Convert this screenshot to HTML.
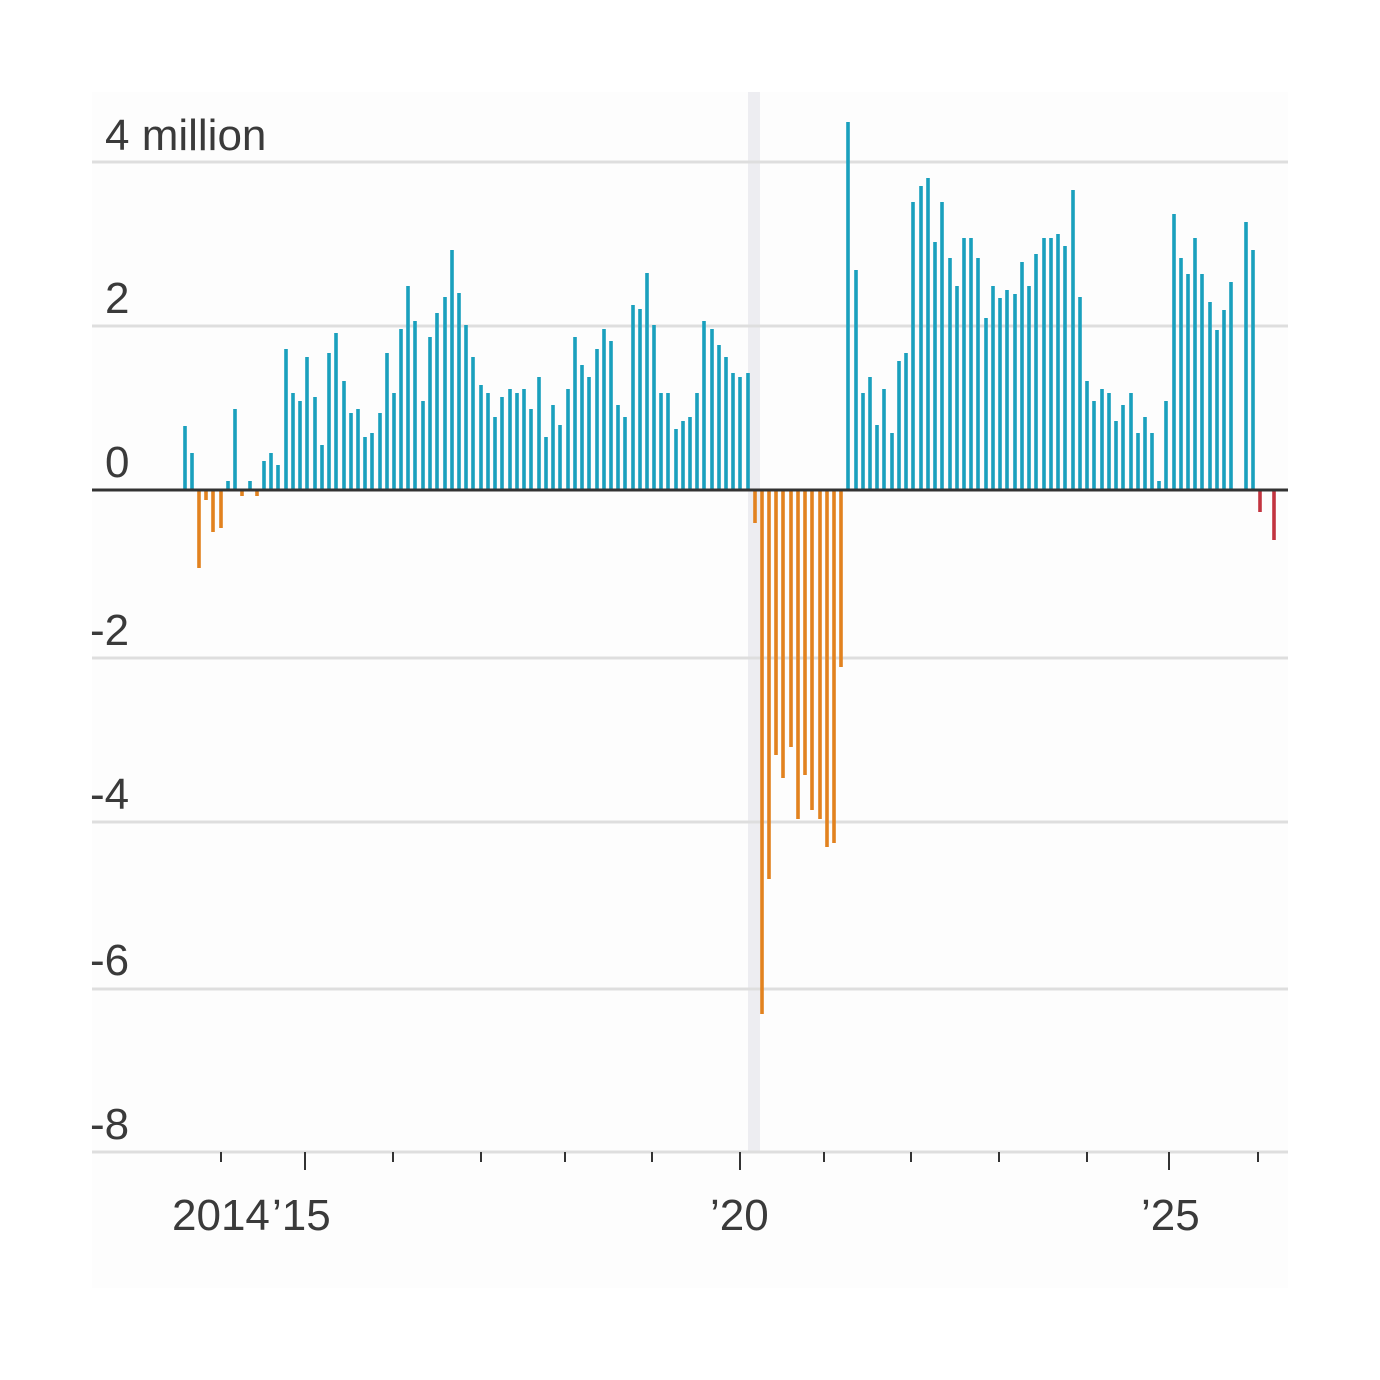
<!DOCTYPE html>
<html><head><meta charset="utf-8">
<style>
html,body{margin:0;padding:0;background:#fff;}
svg{display:block;}
text{font-family:"Liberation Sans Narrow","Liberation Sans",sans-serif;fill:#3a3a3a;font-size:44px;}
</style></head>
<body>
<svg id="c" width="1380" height="1380" viewBox="0 0 1380 1380" xmlns="http://www.w3.org/2000/svg">
<rect x="92" y="92" width="1196" height="1196" fill="#fdfdfd"/>
<rect x="748" y="92" width="12" height="1060" fill="#ededf1"/>
<g stroke="#dedede" stroke-width="3">
<line x1="92" x2="1288" y1="162" y2="162"/>
<line x1="92" x2="1288" y1="326" y2="326"/>
<line x1="92" x2="1288" y1="658" y2="658"/>
<line x1="92" x2="1288" y1="822" y2="822"/>
<line x1="92" x2="1288" y1="989" y2="989"/>
<line x1="92" x2="1288" y1="1152" y2="1152"/>
</g>
<g id="bars"></g>
<line x1="92" x2="1288" y1="490" y2="490" stroke="#333" stroke-width="3"/>
<g stroke="#333" stroke-width="2" id="ticks"></g>
<text x="105" y="150">4 million</text>
<text x="105" y="313">2</text>
<text x="105" y="477">0</text>
<text x="90" y="645">-2</text>
<text x="90" y="809">-4</text>
<text x="90" y="975">-6</text>
<text x="90" y="1139">-8</text>
<text x="172" y="1230">2014</text>
<text x="272" y="1230">’15</text>
<text x="710" y="1230">’20</text>
<text x="1141" y="1230">’25</text>
</svg>
<script>
var d=[[185,426],[192,453],[199,568],[206,500],[213,532],[221,528],[228,481],[235,409],[242,496],[250,481],[257,496],[264,461],[271,453],[278,465],[286,349],[293,393],[300,401],[307,357],[315,397],[322,445],[329,353],[336,333],[344,381],[351,413],[358,409],[365,437],[372,433],[380,413],[387,353],[394,393],[401,329],[408,286],[415,321],[423,401],[430,337],[437,313],[445,297],[452,250],[459,293],[466,325],[473,357],[481,385],[488,393],[495,417],[502,397],[510,389],[517,393],[524,389],[531,409],[539,377],[546,437],[553,405],[560,425],[568,389],[575,337],[582,365],[589,377],[597,349],[604,329],[611,341],[618,405],[625,417],[633,305],[640,309],[647,273],[654,325],[661,393],[668,393],[676,429],[683,421],[690,417],[697,393],[704,321],[712,329],[719,345],[726,357],[733,373],[740,377],[748,373],
[755,523],[762,1014],[769,879],[776,755],[783,778],[791,747],[798,819],[805,775],[812,810],[820,819],[827,847],[834,843],[841,667],
[848,122],[856,270],[863,393],[870,377],[877,425],[884,389],[892,433],[899,361],[906,353],[913,202],[921,186],[928,178],[935,242],[942,202],[950,258],[957,286],[964,238],[971,238],[978,258],[986,318],[993,286],[1000,298],[1007,290],[1015,294],[1022,262],[1029,286],[1036,254],[1044,238],[1051,238],[1058,234],[1065,246],[1073,190],[1080,297],[1087,381],[1094,401],[1102,389],[1109,393],[1116,421],[1123,405],[1131,393],[1138,433],[1145,417],[1152,433],[1159,481],[1166,401],[1174,214],[1181,258],[1188,274],[1195,238],[1202,274],[1210,302],[1217,330],[1224,310],[1231,282],[1246,222],[1253,250],[1260,512,'r'],[1274,540,'r']];
var g=document.getElementById('bars'),s='',w=3.6;
d.forEach(function(b){var x=b[0]-w/2,y=b[1];
 if(b[2]){s+='<rect x="'+x+'" y="490" width="'+w+'" height="'+(y-490)+'" fill="#c23440"/>';}
 else if(y<490){s+='<rect x="'+x+'" y="'+y+'" width="'+w+'" height="'+(490-y)+'" fill="#1aa0bd"/>';}
 else{s+='<rect x="'+x+'" y="490" width="'+w+'" height="'+(y-490)+'" fill="#e2821f"/>';}
});
g.innerHTML=s;
var t='';[221,305,393,481,565,652,740,824,911,999,1087,1169,1258].forEach(function(x){var h=(x==305||x==740||x==1169)?18:10;t+='<line x1="'+x+'" x2="'+x+'" y1="1152" y2="'+(1152+h)+'"/>';});
document.getElementById('ticks').innerHTML=t;
</script>
</body></html>
